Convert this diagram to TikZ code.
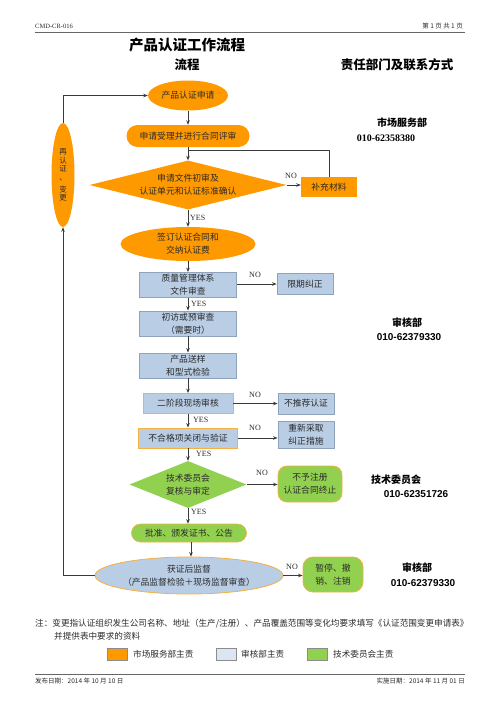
\documentclass[tikz,border=0pt]{standalone}
\usepackage{fontspec}
\setmainfont{Liberation Serif}
\newfontfamily\cjk{Noto Sans CJK SC}
\newfontfamily\arialf{Liberation Sans}
\usetikzlibrary{shapes.geometric,arrows.meta}
\definecolor{org}{HTML}{FF9900}
\definecolor{blu}{HTML}{B9CDE5}
\definecolor{blubd}{HTML}{8FA3BC}
\definecolor{grn}{HTML}{92D050}
\definecolor{orgbd}{HTML}{F5B041}
\definecolor{lnc}{HTML}{3A3A3A}
\definecolor{txt}{HTML}{2B2B2B}
\definecolor{legblu}{HTML}{DCE6F2}
\begin{document}
\begin{tikzpicture}[x=1pt,y=-1pt,
  base/.style={font=\cjk\fontsize{8.8}{13}\selectfont, text=txt, align=center, inner sep=0pt},
  ovalbox/.style={base, ellipse, fill=org},
  stad/.style={base, rectangle, rounded corners=#1, fill=org},
  bluebox/.style={base, rectangle, fill=blu, draw=blubd, line width=0.8pt},
  blueorg/.style={base, rectangle, fill=blu, draw=orgbd, line width=0.8pt},
  grnbox/.style={base, rectangle, rounded corners=9pt, fill=grn, draw=orgbd, line width=0.8pt},
  orgrect/.style={base, rectangle, fill=org},
  lnk/.style={draw=lnc, line width=0.8pt},
  arr/.style={lnk, -{Stealth[length=4.5pt,width=3.5pt]}},
  yn/.style={font=\fontsize{8}{9}\selectfont, text=txt, inner sep=0pt},
  dept/.style={font=\cjk\bfseries\fontsize{10}{12}\selectfont, inner sep=0pt},
  phone/.style={font=\arialf\bfseries\fontsize{10}{12}\selectfont, inner sep=0pt},
  smalltxt/.style={font=\cjk\fontsize{8.6}{10}\selectfont, text=txt, inner sep=0pt},
  hdr/.style={font=\fontsize{6.5}{8}\selectfont, text=txt, inner sep=0pt},
  hdrc/.style={font=\cjk\fontsize{6.5}{8}\selectfont, text=txt, inner sep=0pt},
  swatch/.style={draw=black!45, line width=0.6pt, minimum width=20pt, minimum height=12pt, inner sep=0pt}
]
\useasboundingbox[fill=white] (0,0) rectangle (500,707);

% header
\node[hdr, anchor=west] (hl) at (35,26) {CMD-CR-016};
\node[hdrc, anchor=east] (hr) at (463,26) {第 1 页 共 1 页};
\draw[black!60, line width=0.9pt] (35,32) -- (465,32);

% titles
\node[font=\cjk\bfseries\fontsize{14.5}{16}\selectfont, inner sep=0pt] (t1) at (187,45) {产品认证工作流程};
\node[font=\cjk\bfseries\fontsize{12.5}{14}\selectfont, inner sep=0pt] (t2) at (187,65) {流程};
\node[font=\cjk\bfseries\fontsize{12.5}{14}\selectfont, inner sep=0pt] (t3) at (397,65) {责任部门及联系方式};

% main flow
\node[ovalbox, minimum width=80pt, minimum height=30pt] (sq) at (188,95.5) {产品认证申请};
\node[stad=11pt, minimum width=123pt, minimum height=22pt] (sl) at (188,136) {申请受理并进行合同评审};
\node[base, diamond, fill=org, shape aspect=4, minimum width=197pt, minimum height=49pt] (d1) at (188,185) {申请文件初审及\\认证单元和认证标准确认};
\node[orgrect, minimum width=56pt, minimum height=20pt] (bc) at (329,187) {补充材料};
\node[ovalbox, minimum width=135pt, minimum height=34pt] (qd) at (188,244) {签订认证合同和\\交纳认证费};
\node[bluebox, minimum width=97pt, minimum height=25pt] (zl) at (188,285) {质量管理体系\\文件审查};
\node[bluebox, minimum width=56pt, minimum height=21pt] (xq) at (305,284) {限期纠正};
\node[bluebox, minimum width=97pt, minimum height=25pt] (cf) at (188,323.5) {初访或预审查\\（需要时）};
\node[bluebox, minimum width=97pt, minimum height=25pt] (sy) at (188,365.5) {产品送样\\和型式检验};
\node[blueorg, minimum width=90pt, minimum height=20pt] (ej) at (188,403.5) {二阶段现场审核};
\node[bluebox, minimum width=56pt, minimum height=21pt] (bt) at (306,403.5) {不推荐认证};
\node[blueorg, minimum width=99pt, minimum height=20pt] (bh) at (188,438) {不合格项关闭与验证};
\node[bluebox, minimum width=56pt, minimum height=27pt] (cq) at (306,434.5) {重新采取\\纠正措施};
\node[base, diamond, fill=grn, shape aspect=2.5, minimum width=117pt, minimum height=47pt] (d2) at (188,484.5) {技术委员会\\复核与审定};
\node[grnbox, minimum width=64pt, minimum height=36pt] (by) at (310,484) {不予注册\\认证合同终止};
\node[base, rectangle, rounded corners=9pt, fill=grn, draw=orgbd, line width=0.6pt, minimum width=115pt, minimum height=18pt] (pz) at (189,533) {批准、颁发证书、公告};
\node[base, ellipse, fill=blu, draw=orgbd, line width=0.8pt, minimum width=188pt, minimum height=37pt] (jz) at (189,575.5) {获证后监督\\（产品监督检验＋现场监督审查）};
\node[grnbox, rounded corners=10pt, minimum width=60pt, minimum height=35pt] (zt) at (333,574.5) {暂停、撤\\销、注销};
\node[ovalbox, font=\cjk\fontsize{7.5}{8.6}\selectfont, minimum width=23pt, minimum height=104pt] (zr) at (63,175) {再\\认\\证\\、\\[3pt]变\\更};

% connectors
\coordinate (j) at (188,150);
\draw[arr] (sq.south) -- (sl.north);
\draw[arr] (sl.south) -- (d1.north);
\draw[lnk] (bc.north) |- (j);
\draw[arr] (d1.east) -- (d1.east -| bc.west);
\draw[arr] (d1.south) -- (qd.north);
\draw[arr] (qd.south) -- (zl.north);
\draw[arr] (zl.east |- xq.west) -- (xq.west);
\draw[arr] (zl.south) -- (cf.north);
\draw[arr] (cf.south) -- (sy.north);
\draw[arr] (sy.south) -- (ej.north);
\draw[arr] (ej.east) -- (ej.east -| bt.west);
\draw[arr] (ej.south) -- (bh.north);
\draw[arr] (bh.east) -- (bh.east -| cq.west);
\draw[arr] (bh.south) -- (bh.south |- d2.north);
\draw[arr] (d2.east) -- (d2.east -| by.west);
\draw[arr] (d2.south) -- (d2.south |- pz.north);
\draw[arr] ([xshift=2pt]pz.south) -- ([xshift=2pt]pz.south |- jz.north);
\draw[arr] (jz.east) -- (jz.east -| zt.west);
\draw[arr] (jz.west) -| (zr.south);
\draw[arr] (zr.north) |- (sq.west);

% YES / NO labels
\node[yn] (n1) at (291,176) {NO};
\node[yn, anchor=west] (y1) at (190,218) {YES};
\node[yn] (n2) at (255,275) {NO};
\node[yn, anchor=west] (y2) at (191,304) {YES};
\node[yn] (n3) at (255,395) {NO};
\node[yn, anchor=west] (y3) at (193,420) {YES};
\node[yn] (n4) at (255,428) {NO};
\node[yn, anchor=west] (y4) at (196,454) {YES};
\node[yn] (n5) at (262,473) {NO};
\node[yn, anchor=west] (y5) at (191,512) {YES};
\node[yn] (n6) at (292,567) {NO};

% departments
\node[dept] (dp1) at (402,123) {市场服务部};
\node[font=\bfseries\fontsize{10}{12}\selectfont, inner sep=0pt] (ph1) at (386,138) {010-62358380};
\node[dept] (dp2) at (407,323) {审核部};
\node[phone] (ph2) at (409,337) {010-62379330};
\node[dept] (dp3) at (396,480) {技术委员会};
\node[phone] (ph3) at (416,494.5) {010-62351726};
\node[dept] (dp4) at (417,568) {审核部};
\node[phone] (ph4) at (423,583) {010-62379330};

% note
\node[smalltxt, anchor=west] (nt1) at (35,624) {注：变更指认证组织发生公司名称、地址（生产/注册）、产品覆盖范围等变化均要求填写《认证范围变更申请表》};
\node[smalltxt, anchor=west] (nt2) at (54,636.5) {并提供表中要求的资料};

% legend
\node[swatch, fill=org] (lg1) at (117,654) {};
\node[smalltxt, anchor=west] (lt1) at (133,654.5) {市场服务部主责};
\node[swatch, fill=legblu] (lg2) at (226,654) {};
\node[smalltxt, anchor=west] (lt2) at (241,654.5) {审核部主责};
\node[swatch, fill=grn] (lg3) at (317,654) {};
\node[smalltxt, anchor=west] (lt3) at (333,654.5) {技术委员会主责};

% footer
\draw[black!60, line width=0.9pt] (35,674) -- (465,674);
\node[hdrc, anchor=west] (f1) at (35,681.5) {发布日期：2014 年 10 月 10 日};
\node[hdrc, anchor=east] (f2) at (465,681.5) {实施日期：2014 年 11 月 01 日};
\end{tikzpicture}
\end{document}
